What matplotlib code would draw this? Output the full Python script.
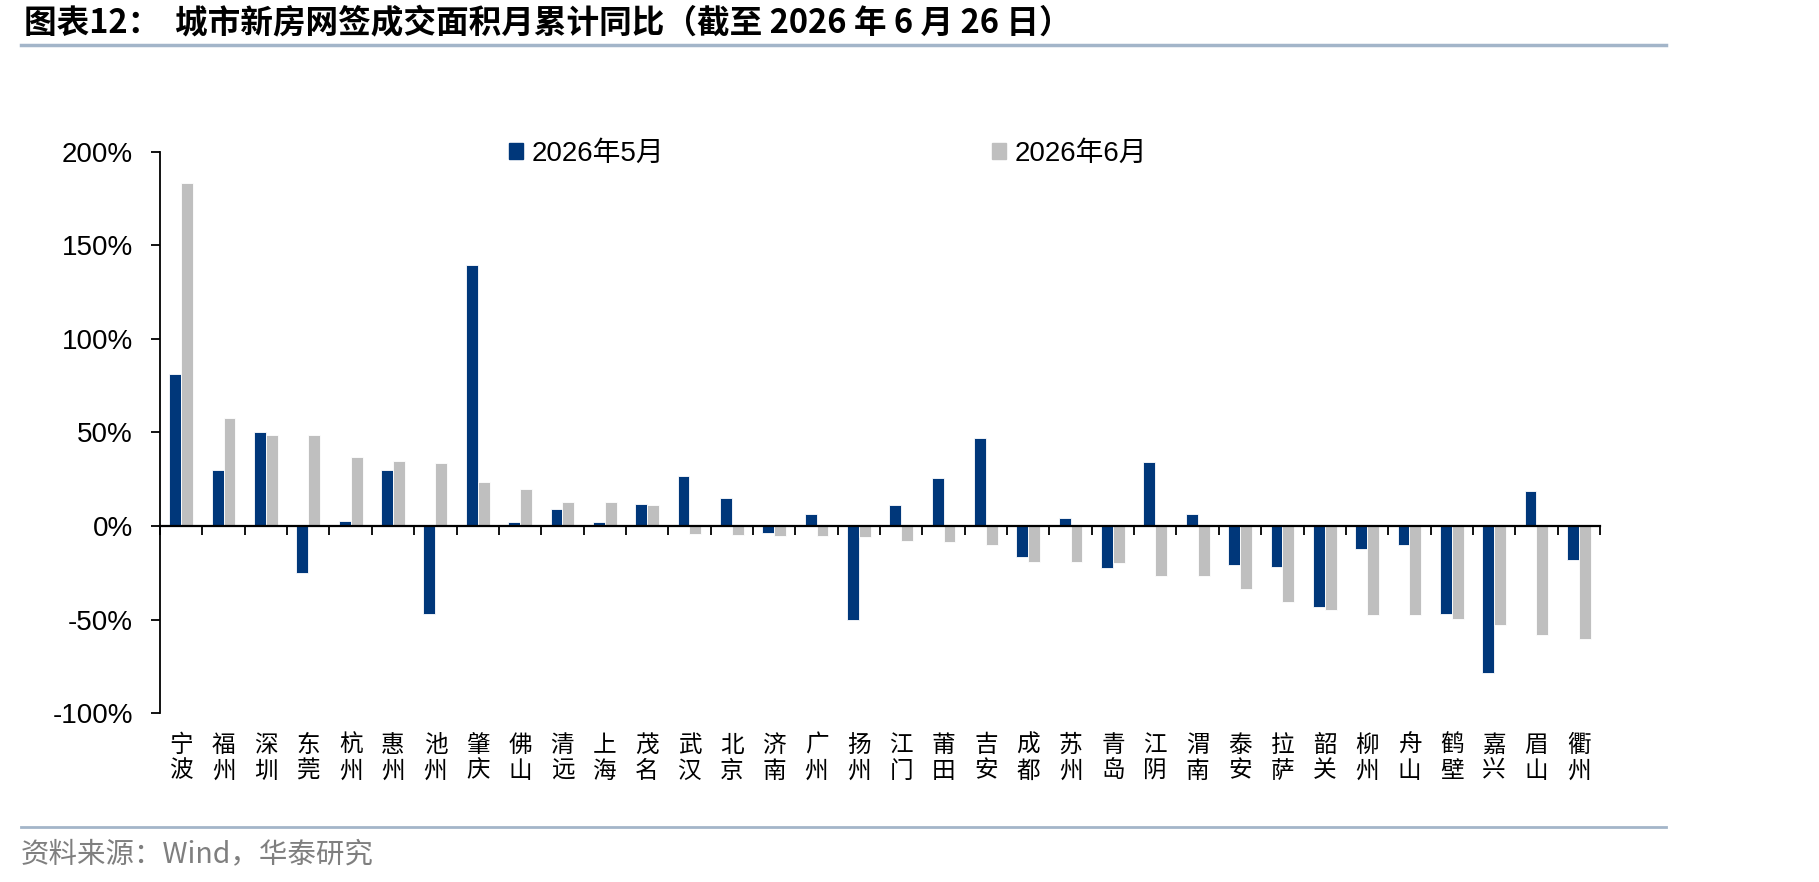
import matplotlib
matplotlib.use("Agg")
import matplotlib.pyplot as plt
from matplotlib.lines import Line2D
from matplotlib.patches import Rectangle
from matplotlib.ticker import FixedLocator, FuncFormatter, NullFormatter

# Data (cumulative YoY, %).
cities = ["宁波", "福州", "深圳", "东莞", "杭州", "惠州", "池州", "肇庆", "佛山",
          "清远", "上海", "茂名", "武汉", "北京", "济南", "广州", "扬州", "江门",
          "莆田", "吉安", "成都", "苏州", "青岛", "江阴", "渭南", "泰安", "拉萨",
          "韶关", "柳州", "舟山", "鹤壁", "嘉兴", "眉山", "衢州"]
may = [81.1, 30.2, 50.2, -25.4, 2.7, 30.2, -47.0, 139.3, 2.1, 8.9, 2.0, 11.6,
       26.5, 15.0, -3.6, 6.3, -50.0, 11.2, 25.4, 46.8, -16.7, 4.3, -22.2, 34.2,
       6.4, -20.8, -21.9, -43.5, -12.5, -10.2, -47.0, -78.7, 18.8, -18.4]
jun = [183.3, 58.0, 48.8, 48.4, 36.7, 34.5, 33.8, 23.7, 19.6, 13.0, 12.6, 11.1,
       -4.5, -4.8, -5.6, -5.6, -5.7, -8.2, -8.7, -10.3, -19.2, -19.2, -19.9,
       -26.7, -26.9, -33.8, -40.9, -45.0, -47.6, -47.6, -49.7, -52.7, -58.2,
       -60.5]
series_names = ["2026年5月", "2026年6月"]
yticks = [-100, -50, 0, 50, 100, 150, 200]

title = "图表12：  城市新房网签成交面积月累计同比（截至 2026 年 6 月 26 日）"
source = "资料来源：Wind，华泰研究"


def cityChart():
    plt.rcParams["font.family"] = ["Liberation Sans", "Noto Sans CJK SC", "DejaVu Sans"]

    navy = "#00377a"
    grey = "#bfbfbf"
    rule = "#a3b5c9"

    fig = plt.figure(figsize=(18.19, 8.82), dpi=100)
    ax = fig.add_axes([0.088, 0.1916, 0.7916, 0.6361])

    # Paired bars, blue left and grey right of each city.
    x = list(range(len(cities)))
    w = 0.28
    ax.bar([i - w / 2 for i in x], may, width=w, color=navy,
           edgecolor="white", linewidth=0.6)
    ax.bar([i + w / 2 for i in x], jun, width=w, color=grey,
           edgecolor="white", linewidth=0.6)

    ax.set_xlim(-0.5, len(cities) - 0.5)
    ax.set_ylim(-100, 200)

    # Axes: left spine plus a zero line with ticks between cities.
    for side in ["top", "right"]:
        ax.spines[side].set_visible(False)
    ax.spines["bottom"].set_position(("data", 0))
    ax.spines["bottom"].set_linewidth(1.6)
    ax.spines["left"].set_linewidth(1.3)
    ax.xaxis.set_major_locator(FixedLocator([i - 0.5 for i in range(len(cities) + 1)]))
    ax.xaxis.set_major_formatter(NullFormatter())
    ax.tick_params(axis="x", direction="out", length=6.5, width=1.3)

    ax.set_yticks(yticks)
    ax.yaxis.set_major_formatter(FuncFormatter(lambda v, p: f"{v:.0f}%"))
    ax.tick_params(axis="y", direction="out", length=6.5, width=1.3,
                   pad=13, labelsize=20)

    # City names, two stacked characters under the plot.
    for i, name in enumerate(cities):
        ax.annotate("\n".join(name), xy=(i, 0), xycoords=("data", "axes fraction"),
                    xytext=(0, -15), textcoords="offset points", ha="center",
                    va="top", fontsize=17, linespacing=1.15,
                    family=["Noto Sans CJK SC", "DejaVu Sans"])

    # Legend spread across the top.
    handles = [Rectangle((0, 0), 1, 1, color=navy), Rectangle((0, 0), 1, 1, color=grey)]
    fig.legend(handles, series_names, loc="center left", bbox_to_anchor=(0.28, 0.826),
               ncol=2, frameon=False, fontsize=20, handlelength=0.5, handleheight=0.5,
               handletextpad=0.3, columnspacing=11.8, borderpad=0, borderaxespad=0)

    # Title, rules and source line.
    fig.text(0.0132, 0.973, title, fontsize=23.5, fontweight="bold", va="center",
             ha="left", family=["Noto Sans CJK SC", "DejaVu Sans"])
    fig.add_artist(Line2D([0.0115, 0.916], [0.949, 0.949], color=rule, linewidth=2.5))
    fig.add_artist(Line2D([0.0115, 0.916], [0.0624, 0.0624], color=rule, linewidth=2.0))
    fig.text(0.0115, 0.032, source, fontsize=20.5, color="#7f7f7f", va="center",
             ha="left", family=["Noto Sans CJK SC", "DejaVu Sans"])

    fig.savefig("out.png", dpi=100)


if __name__ == "__main__":
    cityChart()
